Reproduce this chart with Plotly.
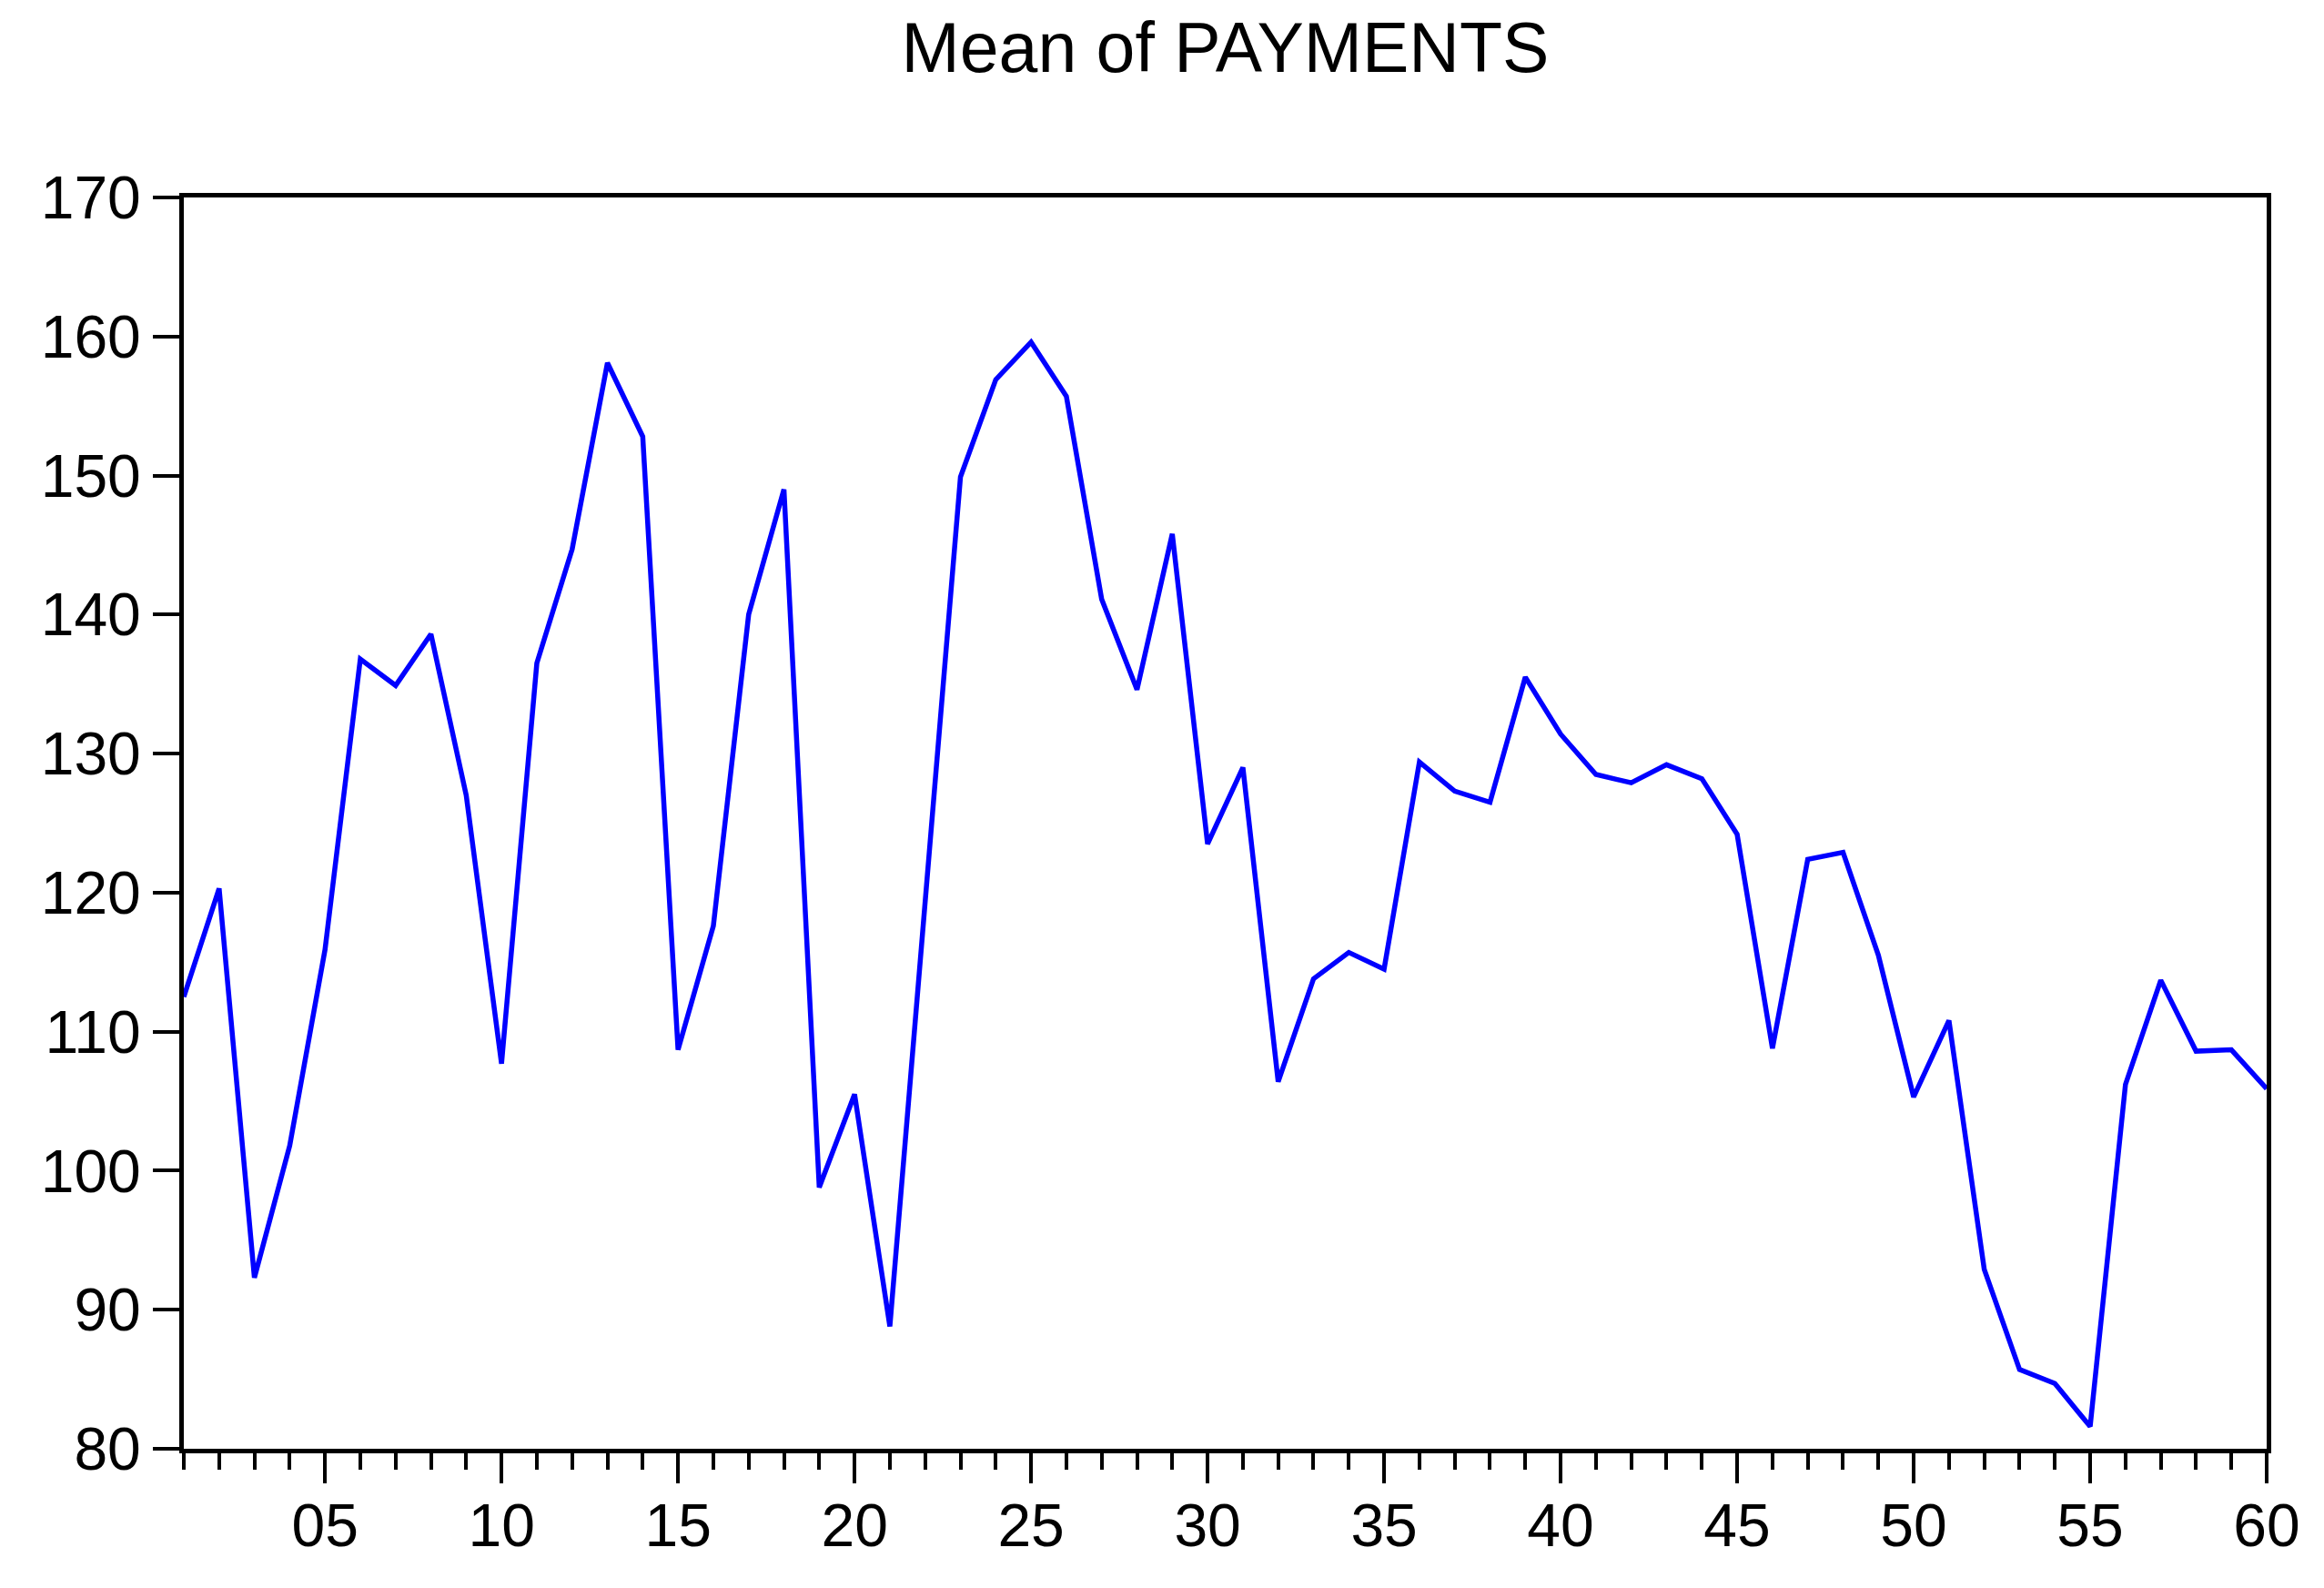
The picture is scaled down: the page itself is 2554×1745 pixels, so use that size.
import plotly.graph_objects as go

# period index and mean payments
periods = list(range(1, 61))
payments = [
    112.5, 120.3, 92.3, 101.8, 115.9, 136.8, 134.9, 138.6, 127.0, 107.7,
    136.5, 144.7, 158.1, 152.8, 108.7, 117.6, 140.0, 149.0, 98.8, 105.5,
    88.8, 119.4, 149.9, 156.9, 159.6, 155.7, 141.1, 134.6, 145.8, 123.5,
    129.0, 106.4, 113.8, 115.7, 114.5, 129.4, 127.3, 126.5, 135.5, 131.4,
    128.5, 127.9, 129.2, 128.2, 124.2, 108.8, 122.4, 122.9, 115.5, 105.3,
    110.8, 92.9, 85.7, 84.7, 81.6, 106.2, 113.7, 108.6, 108.7, 105.9,
]

x_major = list(range(5, 61, 5))
x_labels = [f"{v:02d}" for v in x_major]
y_ticks = list(range(80, 171, 10))

FONT = "Liberation Sans, Arial, sans-serif"
L, R, T, B = 194, 71, 209, 161

fig = go.Figure()
fig.add_trace(
    go.Scatter(
        x=periods,
        y=payments,
        mode="lines",
        line=dict(color="#0000FF", width=5.5),
        showlegend=False,
    )
)

fig.update_layout(
    width=2554,
    height=1745,
    paper_bgcolor="white",
    plot_bgcolor="white",
    margin=dict(l=L, r=R, t=T, b=B),
    font=dict(family=FONT, color="black", size=66),
    title=dict(
        text="Mean of PAYMENTS",
        font=dict(family=FONT, size=77, color="black"),
        x=(L + 2554 - R) / 2 / 2554,
        xanchor="center",
        xref="container",
        y=1 - 44 / 1745,
        yanchor="middle",
        yref="container",
    ),
)

fig.update_xaxes(
    range=[1, 60],
    tickmode="array",
    tickvals=x_major,
    ticktext=x_labels,
    ticks="outside",
    ticklen=33,
    tickwidth=3.5,
    tickcolor="black",
    showline=True,
    linewidth=5,
    linecolor="black",
    mirror=True,
    showgrid=False,
    zeroline=False,
    ticklabelstandoff=-10,
    tickfont=dict(family=FONT, size=66, color="black"),
    minor=dict(
        tickmode="array",
        tickvals=periods,
        ticks="outside",
        ticklen=18,
        tickwidth=3.5,
        tickcolor="black",
        showgrid=False,
    ),
)

fig.update_yaxes(
    range=[80, 170],
    tickmode="array",
    tickvals=y_ticks,
    ticks="outside",
    ticklen=29,
    tickwidth=3.5,
    tickcolor="black",
    showline=True,
    linewidth=5,
    linecolor="black",
    mirror=True,
    showgrid=False,
    zeroline=False,
    tickfont=dict(family=FONT, size=66, color="black"),
)

fig.write_html("out.html")
